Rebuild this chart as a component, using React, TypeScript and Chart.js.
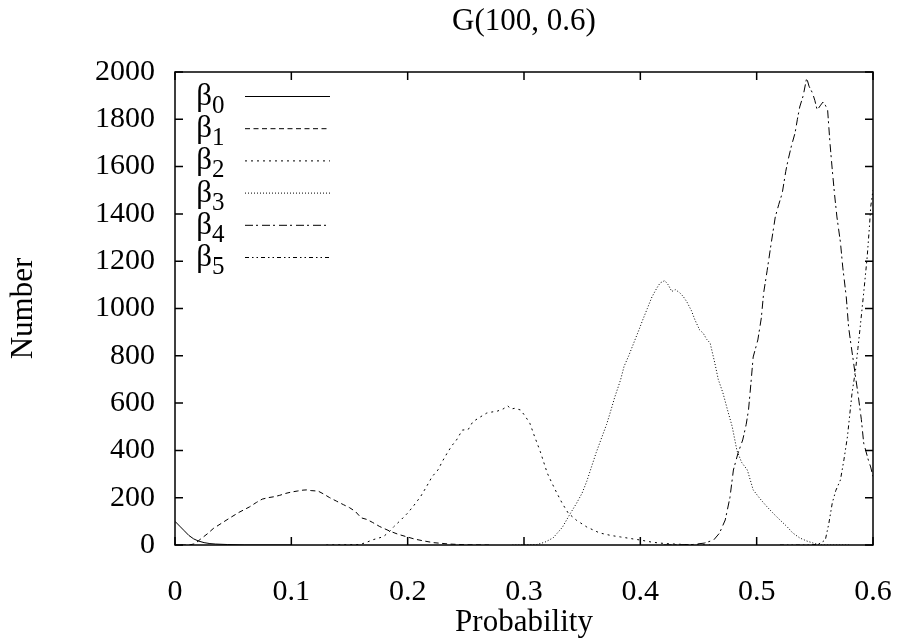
import { useEffect, useRef } from 'react';
import { Chart, registerables } from 'chart.js';

Chart.register(...registerables);

const FONT = '"Liberation Serif", "Times New Roman", serif';

const chartTitle = 'G(100, 0.6)';
const xTitle = 'Probability';
const yTitle = 'Number';
const xTicks = [0, 0.1, 0.2, 0.3, 0.4, 0.5, 0.6];
const yTicks = [0, 200, 400, 600, 800, 1000, 1200, 1400, 1600, 1800, 2000];
const seriesSubs = ['0', '1', '2', '3', '4', '5'];
const seriesDashes = [[], [5, 3.5], [2, 4], [1, 2], [8, 3, 2, 4], [4, 3, 1.5, 3, 1.5, 3]];

const b0X = [0, 0.004, 0.008, 0.012, 0.016, 0.02, 0.025, 0.03, 0.035, 0.045, 0.06, 0.1];
const b0Y = [100, 80, 60, 40, 26, 17, 10, 6, 4, 2, 0, 0];

const b1X = [0.005, 0.012, 0.017, 0.022, 0.028, 0.033, 0.04, 0.047, 0.055, 0.064, 0.07, 0.075, 0.08, 0.085, 0.09, 0.095, 0.1, 0.105, 0.11, 0.113, 0.117, 0.123, 0.128, 0.133, 0.139, 0.145, 0.15, 0.155, 0.16, 0.165, 0.17, 0.176, 0.185, 0.192, 0.199, 0.206, 0.213, 0.222, 0.236, 0.25, 0.27];
const b1Y = [0, 0, 5, 25, 48, 70, 92, 114, 138, 161, 180, 194, 200, 204, 210, 218, 224, 228, 232, 233, 230, 228, 215, 200, 185, 170, 158, 142, 115, 108, 95, 78, 58, 45, 35, 25, 18, 10, 4, 1, 0];

const b2X = [0.13, 0.159, 0.165, 0.17, 0.179, 0.184, 0.188, 0.194, 0.2, 0.205, 0.211, 0.216, 0.221, 0.226, 0.23, 0.234, 0.238, 0.242, 0.247, 0.252, 0.256, 0.262, 0.268, 0.272, 0.277, 0.282, 0.286, 0.289, 0.292, 0.297, 0.301, 0.305, 0.309, 0.314, 0.32, 0.324, 0.328, 0.333, 0.338, 0.345, 0.354, 0.365, 0.375, 0.383, 0.392, 0.4, 0.41, 0.417, 0.425, 0.434, 0.445, 0.46];
const b2Y = [0, 2, 12, 22, 35, 55, 77, 105, 135, 165, 204, 245, 289, 317, 355, 389, 420, 444, 486, 488, 521, 540, 558, 562, 566, 575, 588, 575, 578, 571, 545, 515, 460, 395, 304, 262, 222, 175, 135, 105, 76, 51, 40, 34, 27, 21, 12, 8, 5, 3, 1, 0];

const b3X = [0.29, 0.311, 0.318, 0.325, 0.333, 0.34, 0.345, 0.35, 0.354, 0.358, 0.362, 0.367, 0.371, 0.374, 0.378, 0.383, 0.386, 0.39, 0.396, 0.399, 0.402, 0.406, 0.41, 0.414, 0.417, 0.421, 0.424, 0.427, 0.43, 0.434, 0.437, 0.44, 0.444, 0.447, 0.451, 0.454, 0.457, 0.46, 0.464, 0.467, 0.471, 0.475, 0.479, 0.483, 0.487, 0.492, 0.497, 0.503, 0.509, 0.515, 0.52, 0.526, 0.531, 0.537, 0.543, 0.55, 0.556, 0.58];
const b3Y = [0, 2, 12, 30, 75, 135, 175, 220, 270, 330, 390, 457, 510, 558, 625, 698, 755, 800, 875, 912, 951, 1000, 1049, 1085, 1108, 1118, 1100, 1072, 1080, 1066, 1050, 1028, 990, 951, 909, 896, 870, 854, 770, 700, 643, 570, 500, 400, 350, 317, 233, 195, 161, 130, 106, 78, 51, 30, 17, 6, 0, 0];

const b4X = [0.42, 0.445, 0.455, 0.463, 0.468, 0.473, 0.477, 0.48, 0.484, 0.488, 0.491, 0.493, 0.495, 0.497, 0.501, 0.504, 0.506, 0.509, 0.512, 0.516, 0.519, 0.522, 0.525, 0.527, 0.53, 0.533, 0.535, 0.537, 0.54, 0.543, 0.545, 0.548, 0.55, 0.552, 0.555, 0.557, 0.559, 0.561, 0.563, 0.565, 0.567, 0.569, 0.572, 0.574, 0.577, 0.579, 0.581, 0.583, 0.585, 0.587, 0.59, 0.592, 0.594, 0.596, 0.598, 0.6];
const b4Y = [0, 2, 8, 21, 50, 106, 200, 317, 389, 444, 510, 571, 680, 795, 867, 960, 1066, 1160, 1260, 1387, 1440, 1488, 1580, 1628, 1690, 1742, 1800, 1852, 1900, 1975, 1940, 1911, 1880, 1839, 1860, 1873, 1860, 1839, 1700, 1586, 1480, 1387, 1280, 1175, 1050, 922, 850, 782, 710, 643, 530, 431, 395, 359, 330, 290];

const b5X = [0.52, 0.545, 0.553, 0.559, 0.562, 0.565, 0.568, 0.572, 0.575, 0.578, 0.58, 0.582, 0.585, 0.587, 0.589, 0.592, 0.595, 0.597, 0.598, 0.6];
const b5Y = [0, 0, 3, 21, 90, 178, 230, 275, 360, 457, 550, 643, 740, 830, 922, 1066, 1218, 1350, 1429, 1501];

const seriesX = [b0X, b1X, b2X, b3X, b4X, b5X];
const seriesY = [b0Y, b1Y, b2Y, b3Y, b4Y, b5Y];

const framePlugin = {
  id: 'gnuFrame',
  afterDatasetsDraw(chart: any) {
    const { ctx, chartArea, scales } = chart;
    const { left, right, top, bottom } = chartArea;
    const xs = scales.x;
    const ys = scales.y;
    ctx.save();
    // title centred over the plot area
    ctx.fillStyle = '#000';
    ctx.font = `31px ${FONT}`;
    ctx.textAlign = 'center';
    ctx.textBaseline = 'middle';
    ctx.fillText(chartTitle, (left + right) / 2, 22);

    ctx.strokeStyle = '#000';
    ctx.setLineDash([]);
    ctx.lineWidth = 1.5;
    ctx.strokeRect(left, top, right - left, bottom - top);
    const L = 8;
    ctx.beginPath();
    xTicks.forEach((v) => {
      const px = xs.getPixelForValue(v);
      ctx.moveTo(px, bottom);
      ctx.lineTo(px, bottom - L);
      ctx.moveTo(px, top);
      ctx.lineTo(px, top + L);
    });
    yTicks.forEach((v) => {
      const py = ys.getPixelForValue(v);
      ctx.moveTo(left, py);
      ctx.lineTo(left + L, py);
      ctx.moveTo(right, py);
      ctx.lineTo(right - L, py);
    });
    ctx.stroke();

    // key (legend) inside the plot, upper left
    seriesSubs.forEach((sub, i) => {
      const rowY = top + 24 + i * 32.2;
      ctx.fillStyle = '#000';
      ctx.textBaseline = 'alphabetic';
      ctx.font = `31px ${FONT}`;
      ctx.textAlign = 'right';
      const subX = left + 37;
      ctx.fillText('\u03B2', subX, rowY + 9);
      ctx.font = `25px ${FONT}`;
      ctx.textAlign = 'left';
      ctx.fillText(sub, subX, rowY + 17);
      ctx.lineWidth = 1;
      ctx.setLineDash(seriesDashes[i]);
      ctx.beginPath();
      ctx.moveTo(left + 70, rowY + 0.5);
      ctx.lineTo(left + 155, rowY + 0.5);
      ctx.stroke();
    });
    ctx.restore();
  },
};

export default function App() {
  const ref = useRef<HTMLCanvasElement>(null);

  useEffect(() => {
    const canvas = ref.current;
    if (!canvas) return;
    const tickFont = { family: FONT, size: 30, weight: 'normal' as const };
    const titleFont = { family: FONT, size: 31, weight: 'normal' as const };
    const chart = new Chart(canvas, {
      type: 'line',
      data: {
        datasets: seriesSubs.map((sub, i) => ({
          label: '\u03B2' + sub,
          data: seriesX[i].map((x, j) => ({ x, y: seriesY[i][j] })),
          borderColor: '#000',
          backgroundColor: '#000',
          borderWidth: 1,
          borderDash: seriesDashes[i],
          pointRadius: 0,
          tension: 0,
          fill: false,
        })),
      },
      options: {
        animation: false,
        responsive: false,
        events: [],
        layout: { padding: { left: 0, right: 26, top: 72, bottom: 0 } },
        plugins: {
          legend: { display: false },
          tooltip: { enabled: false },
          title: { display: false },
        },
        scales: {
          x: {
            type: 'linear',
            min: 0,
            max: 0.6,
            afterBuildTicks: (s: any) => {
              s.ticks = xTicks.map((v) => ({ value: v }));
            },
            afterFit: (s: any) => {
              s.height = 96;
              s.paddingLeft = 0;
              s.paddingRight = 0;
            },
            ticks: {
              color: '#000',
              font: tickFont,
              padding: 29,
              maxRotation: 0,
              autoSkip: false,
              callback: (v: any) => String(Math.round(Number(v) * 10) / 10),
            },
            grid: { display: false, drawTicks: false },
            border: { display: false },
            title: {
              display: true,
              text: xTitle,
              color: '#000',
              font: titleFont,
              padding: { top: 0, bottom: 0 },
            },
          },
          y: {
            type: 'linear',
            min: 0,
            max: 2000,
            afterBuildTicks: (s: any) => {
              s.ticks = yTicks.map((v) => ({ value: v }));
            },
            afterFit: (s: any) => {
              s.width = 175;
              s.paddingTop = 0;
              s.paddingBottom = 0;
            },
            ticks: {
              color: '#000',
              font: tickFont,
              padding: 20,
              autoSkip: false,
              callback: (v: any) => String(v),
            },
            grid: { display: false, drawTicks: false },
            border: { display: false },
            title: {
              display: true,
              text: yTitle,
              color: '#000',
              font: titleFont,
              padding: { top: 5, bottom: 0 },
            },
          },
        },
      },
      plugins: [framePlugin],
    });
    return () => chart.destroy();
  }, []);

  return (
    <div style={{ position: 'absolute', left: 0, top: 0, width: 899, height: 641, background: '#fff' }}>
      <canvas ref={ref} width={899} height={641} style={{ display: 'block' }} />
    </div>
  );
}
